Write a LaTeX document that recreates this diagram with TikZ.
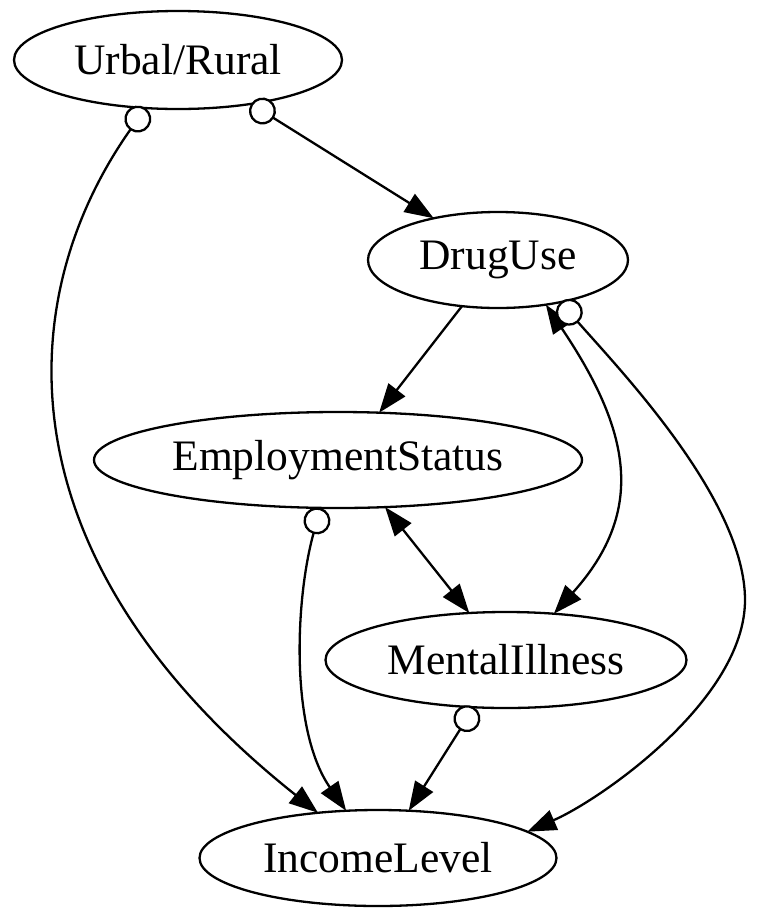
\documentclass[tikz,border=0pt]{standalone}
\usepackage{fontspec}
\setmainfont{Liberation Serif}
\usepackage{tikz}
\usetikzlibrary{positioning}
\usetikzlibrary{shapes.geometric}
\usetikzlibrary{arrows.meta}

\tikzset{
    var/.style={draw, ellipse, line width=2.3pt, inner sep=0pt, outer sep=0pt,
        minimum height=96pt, font=\fontsize{43.5}{50}\selectfont},
    link/.style={line width=2.3pt},
    head/.tip={Triangle[length=29pt, width=21pt]},
    ring/.tip={Circle[open, length=27pt, fill=white]},
}

\begin{document}
\begin{tikzpicture}[x=1pt, y=1pt, on grid]
    \useasboundingbox (0,0) rectangle (758,-922);

    \node [var, minimum width=328pt, minimum height=98pt] (urban) at (178,-60) {Urbal/Rural};
    \node [var, minimum width=260pt, below right=200pt and 320pt of urban] (drug) {DrugUse};
    \node [var, minimum width=488pt, below left=200pt and 160pt of drug] (employ) {EmploymentStatus};
    \node [var, minimum width=361pt, below right=200pt and 168pt of employ] (mental) {MentalIllness};
    \node [var, minimum width=357pt, below left=198pt and 128pt of mental] (income) {IncomeLevel};

    \draw [link, ring-head] (urban.-124) .. controls (10,-300) and (0,-560) .. (income.143.7);
    \draw [link, ring-head] (urban.-31.5) -- (drug.147.8);
    \draw [link, -head] (drug.-128.8) -- (employ.49.8);
    \draw [link, head-head] (drug.-43) .. controls (630,-430) and (647,-510) .. (mental.44.4);
    \draw [link, ring-head] (drug.-34) .. controls (620,-370) and (745,-500) .. (745,-600)
        .. controls (745,-700) and (600,-800) .. (income.10);
    \draw [link, ring-head] (employ.-110.6) .. controls (295,-600) and (290,-730) .. (income.124.5);
    \draw [link, head-head] (employ.-45) -- (mental.128.4);
    \draw [link, ring-head] (mental.-124.4) -- (income.57.6);
\end{tikzpicture}
\end{document}
